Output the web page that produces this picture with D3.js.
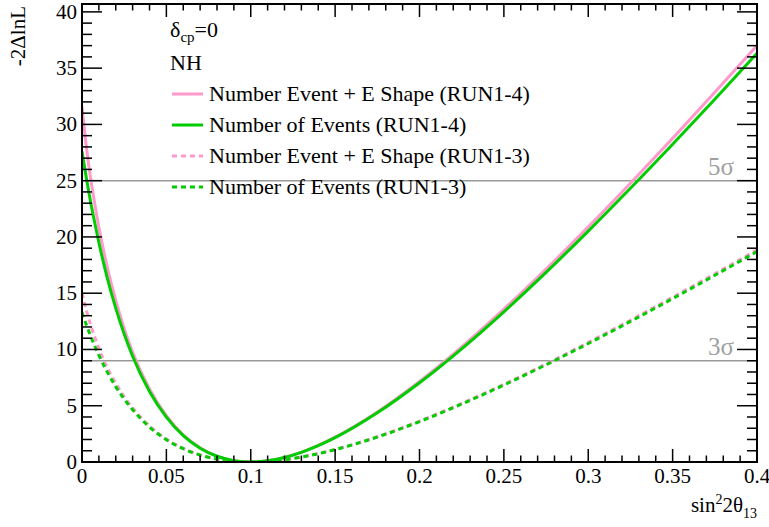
<!DOCTYPE html>
<html><head><meta charset="utf-8">
<script src="https://cdn.jsdelivr.net/npm/d3@7/dist/d3.min.js"></script>
<style>
html,body{margin:0;padding:0;background:#fff;}
svg{display:block;}
</style></head>
<body>
<svg id="chart" width="769" height="527"></svg>
<script>
// ---------- data ----------
const sin2 = [0,0.0025,0.005,0.0075,0.01,0.015,0.02,0.025,0.03,0.04,0.05,0.06,0.07,0.08,0.09,0.1,0.11,0.12,0.13,0.14,0.15,0.175,0.2,0.225,0.25,0.275,0.3,0.325,0.35,0.375,0.4];
const pinkRun14 = [31.6,28.1,25.3,23.0,20.85,17.3,14.37,11.87,9.75,6.49,4.12,2.42,1.26,0.52,0.12,0,0.106,0.41,0.88,1.48,2.21,4.45,7.16,10.24,13.59,17.15,20.89,24.77,28.76,32.85,37.01];
const greenRun14 = [27.6,25.3,23.2,21.3,19.5,16.35,13.67,11.37,9.40,6.27,3.99,2.35,1.23,0.51,0.12,0,0.106,0.40,0.857,1.45,2.16,4.37,7.04,10.06,13.35,16.85,20.52,24.32,28.23,32.23,36.31];
const pinkRun13 = [15.0,13.52,12.24,11.13,10.09,8.39,7.0,5.81,4.80,3.21,2.04,1.21,0.625,0.256,0.06,0,0.054,0.205,0.44,0.745,1.11,2.24,3.63,5.2,6.9,8.71,10.63,12.6,14.64,16.73,18.85];
const greenRun13 = [13.3,12.22,11.24,10.33,9.49,7.99,6.70,5.59,4.64,3.11,1.98,1.18,0.615,0.256,0.06,0,0.054,0.203,0.434,0.736,1.10,2.22,3.59,5.15,6.84,8.64,10.53,12.49,14.52,16.59,18.70];
const seriesNames = ["Number Event + E Shape (RUN1-4)","Number of Events (RUN1-4)","Number Event + E Shape (RUN1-3)","Number of Events (RUN1-3)"];
const xTicks = [0,0.05,0.1,0.15,0.2,0.25,0.3,0.35,0.4];
const xTickLabels = ["0","0.05","0.1","0.15","0.2","0.25","0.3","0.35","0.4"];
const yTicks = [0,5,10,15,20,25,30,35,40];
const sigmaLevels = [25,9];
const sigmaLabels = ["5σ","3σ"];

// ---------- layout ----------
const FONT = "Liberation Serif";
const svg = d3.select("#chart");
const L = 82, R = 757, T = 4, B = 462;
const x = d3.scaleLinear().domain([0,0.4]).range([L,R]);
const y = d3.scaleLinear().domain([0,40.7]).range([B,T]);

const colors = ["#ff99cc","#00cc00","#ff99cc","#00cc00"];
const dashes = [null,null,"5,4","5,4"];
const data = [pinkRun14, greenRun14, pinkRun13, greenRun13];

svg.append("defs").append("clipPath").attr("id","clip")
  .append("rect").attr("x",L).attr("y",T).attr("width",R-L).attr("height",B-T);

function txt(sel){ return sel.append("text").attr("font-family",FONT); }

// sigma lines
sigmaLevels.forEach((v,i)=>{
  svg.append("line").attr("x1",L).attr("x2",R).attr("y1",y(v)).attr("y2",y(v))
    .attr("stroke","#999").attr("stroke-width",1.5);
  txt(svg).attr("x",734).attr("y",y(v)-6).attr("text-anchor","end")
    .attr("font-size",25).attr("fill","#a0a0a0").text(sigmaLabels[i]);
});

// curves
const line = d3.line().x((d,i)=>x(sin2[i])).y(d=>y(d)).curve(d3.curveMonotoneX);
const g = svg.append("g").attr("clip-path","url(#clip)");
[2,3,0,1].forEach(k=>{
  g.append("path").datum(data[k]).attr("d",line).attr("fill","none")
    .attr("stroke",colors[k]).attr("stroke-width",3)
    .attr("stroke-dasharray",dashes[k]);
});

// axes frame
const axisG = svg.append("g").attr("stroke","#000");
axisG.append("rect").attr("x",L).attr("y",T).attr("width",R-L).attr("height",B-T)
  .attr("fill","none").attr("stroke-width",2);

// x ticks (bottom & top)
const xMinor = d3.range(0,0.4001,0.01);
xMinor.forEach(v=>{
  const major = Math.abs(v/0.05 - Math.round(v/0.05))<1e-6;
  const len = major?13:6.5;
  axisG.append("line").attr("x1",x(v)).attr("x2",x(v)).attr("y1",B).attr("y2",B-len).attr("stroke-width",1.5);
  axisG.append("line").attr("x1",x(v)).attr("x2",x(v)).attr("y1",T).attr("y2",T+len).attr("stroke-width",1.5);
});
// y ticks (left & right)
const yMinor = d3.range(0,41,1);
yMinor.forEach(v=>{
  const major = v%5===0;
  const len = major?20:10;
  axisG.append("line").attr("y1",y(v)).attr("y2",y(v)).attr("x1",L).attr("x2",L+len).attr("stroke-width",1.5);
  axisG.append("line").attr("y1",y(v)).attr("y2",y(v)).attr("x1",R).attr("x2",R-len).attr("stroke-width",1.5);
});

// tick labels
xTicks.forEach((v,i)=>{
  txt(svg).attr("x",x(v)).attr("y",483).attr("text-anchor","middle")
    .attr("font-size",21).text(xTickLabels[i]);
});
yTicks.forEach(v=>{
  txt(svg).attr("x",77).attr("y",y(v)+7).attr("text-anchor","end")
    .attr("font-size",21).text(v);
});

// axis titles
const xt = txt(svg).attr("x",757).attr("y",512).attr("text-anchor","end").attr("font-size",21);
xt.append("tspan").text("sin");
xt.append("tspan").attr("font-size",14).attr("dy",-8).text("2");
xt.append("tspan").attr("dy",8).text("2θ");
xt.append("tspan").attr("font-size",14).attr("dy",6).text("13");

txt(svg).attr("transform","translate(25,6) rotate(-90)").attr("text-anchor","end")
  .attr("font-size",21).text("-2ΔlnL");

// legend header
const h1 = txt(svg).attr("x",170).attr("y",37).attr("font-size",22);
h1.append("tspan").text("δ");
h1.append("tspan").attr("font-size",15).attr("dy",5).text("cp");
h1.append("tspan").attr("dy",-5).text("=0");
txt(svg).attr("x",170).attr("y",70).attr("font-size",22).text("NH");

const rowsY = [94,125,156,187];
seriesNames.forEach((n,k)=>{
  svg.append("line").attr("x1",172).attr("x2",203).attr("y1",rowsY[k]).attr("y2",rowsY[k])
    .attr("stroke",colors[k]).attr("stroke-width",3).attr("stroke-dasharray",dashes[k]);
  txt(svg).attr("x",209).attr("y",rowsY[k]+7).attr("font-size",22).text(n);
});
</script>
</body></html>
